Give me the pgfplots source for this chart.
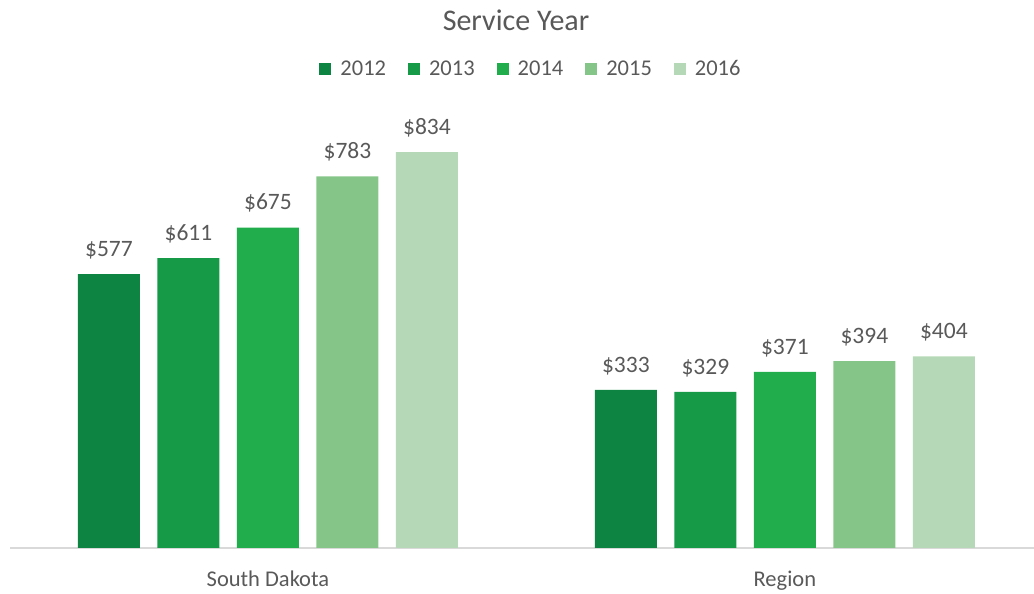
\documentclass[border=0pt]{standalone}
\usepackage{pgfplots}
\pgfplotsset{compat=1.18}
\usepackage{fontspec}
\setmainfont{Carlito}
\definecolor{cA}{HTML}{0D8442}
\definecolor{cB}{HTML}{169A47}
\definecolor{cC}{HTML}{21AD4B}
\definecolor{cD}{HTML}{85C688}
\definecolor{cE}{HTML}{B5D9B6}
\definecolor{txt}{HTML}{595959}
\definecolor{axl}{HTML}{D9D9D9}
\begin{document}
\begin{tikzpicture}[x=1pt,y=1pt]
\useasboundingbox (-10,-46) rectangle (1024,548);
\begin{axis}[
  at={(0,0)}, anchor=south west,
  scale only axis, width=1024pt, height=448pt,
  ybar=17.5pt, bar width=62pt,
  xmin=-0.499, xmax=1.482, ymin=0, ymax=944,
  axis x line*=bottom, axis y line=none,
  x axis line style={draw=axl, line width=1.3pt, -},
  xtick={0,1}, xticklabels={South Dakota, Region},
  xtick style={draw=none}, ytick=\empty,
  xticklabel style={font=\fontsize{22.5}{27}\selectfont, text=txt, yshift=-15pt},
  /pgf/number format/assume math mode=true,
  nodes near coords={\$\pgfmathprintnumber{\pgfplotspointmeta}},
  nodes near coords style={font=\fontsize{23.5}{27}\selectfont, text=txt, anchor=south, inner sep=5pt, yshift=10pt},
  legend columns=5,
  legend style={at={(521pt,479pt)}, anchor=center, draw=none, fill=none,
    font=\fontsize{22.5}{27}\selectfont, text=txt,
    /tikz/every odd column/.append style={column sep=7pt},
    /tikz/every even column/.append style={column sep=20pt}},
  legend image code/.code={\fill (0pt,-6pt) rectangle (12pt,6pt);},
  every axis plot/.append style={draw=none},
  clip=false,
]
\addplot[fill=cA] coordinates {(0,577) (1,333)};
\addplot[fill=cB] coordinates {(0,611) (1,329)};
\addplot[fill=cC] coordinates {(0,675) (1,371)};
\addplot[fill=cD] coordinates {(0,783) (1,394)};
\addplot[fill=cE] coordinates {(0,834) (1,404)};
\legend{2012,2013,2014,2015,2016}
\end{axis}
\node[font=\fontsize{30}{36}\selectfont, text=txt] at (506,528) {Service Year};
\end{tikzpicture}
\end{document}
